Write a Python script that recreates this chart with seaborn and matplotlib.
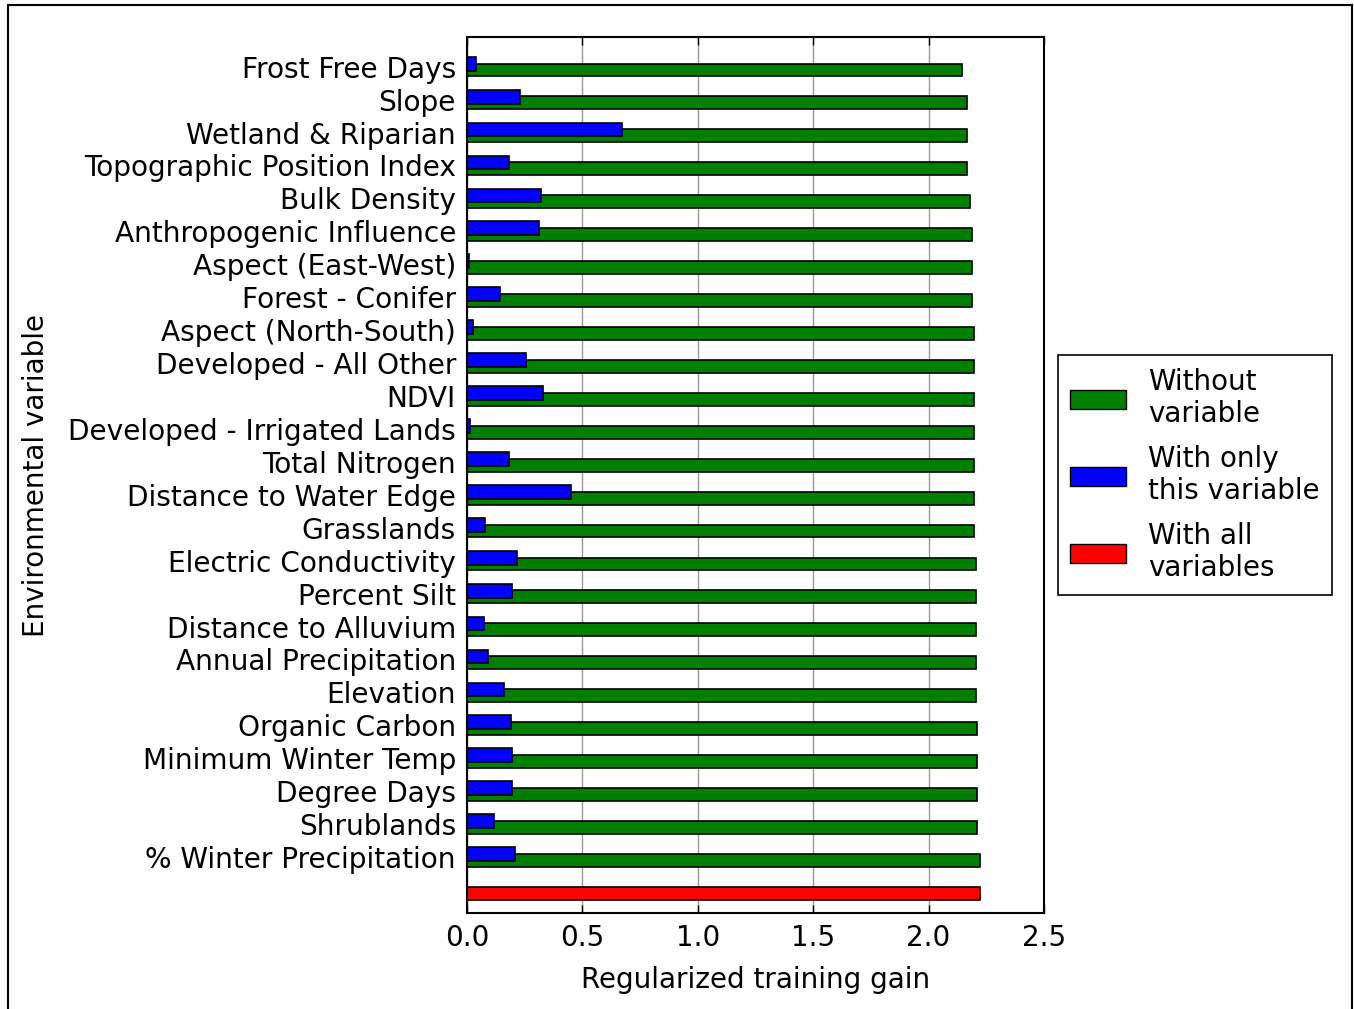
import matplotlib
matplotlib.use("Agg")
import matplotlib.pyplot as plt
import seaborn as sns
import pandas as pd
import numpy as np
from matplotlib.patches import Rectangle, Patch

variables = [
    "Frost Free Days", "Slope", "Wetland & Riparian", "Topographic Position Index",
    "Bulk Density", "Anthropogenic Influence", "Aspect (East-West)", "Forest - Conifer",
    "Aspect (North-South)", "Developed - All Other", "NDVI", "Developed - Irrigated Lands",
    "Total Nitrogen", "Distance to Water Edge", "Grasslands", "Electric Conductivity",
    "Percent Silt", "Distance to Alluvium", "Annual Precipitation", "Elevation",
    "Organic Carbon", "Minimum Winter Temp", "Degree Days", "Shrublands",
    "% Winter Precipitation",
]
without_variable = [
    2.145, 2.166, 2.166, 2.166, 2.178, 2.188, 2.188, 2.188, 2.195, 2.195,
    2.198, 2.198, 2.198, 2.198, 2.198, 2.205, 2.205, 2.205, 2.205, 2.205,
    2.21, 2.21, 2.21, 2.21, 2.222,
]
only_variable = [
    0.04, 0.23, 0.67, 0.18, 0.32, 0.31, 0.01, 0.145, 0.025, 0.255,
    0.33, 0.013, 0.18, 0.45, 0.08, 0.215, 0.195, 0.075, 0.09, 0.16,
    0.19, 0.195, 0.195, 0.115, 0.21,
]
all_variables = 2.222

sns.set_style("white")
plt.rcParams["font.family"] = ["DejaVu Sans"]
plt.rcParams["text.color"] = "black"
plt.rcParams["axes.labelcolor"] = "black"
plt.rcParams["xtick.color"] = "black"
plt.rcParams["ytick.color"] = "black"

fig = plt.figure(figsize=(13.54, 10.09), dpi=100)
ax = fig.add_axes([0.3449, 0.0951, 0.4261, 0.8682])

n = len(variables)
pos = np.arange(n)
df_without = pd.DataFrame({"pos": pos + 0.1, "gain": without_variable})
df_only = pd.DataFrame({"pos": pos - 0.09, "gain": only_variable})
df_all = pd.DataFrame({"pos": [n + 0.1], "gain": [all_variables]})

common = dict(orient="h", native_scale=True, errorbar=None, saturation=1,
              edgecolor="black", linewidth=1.2, ax=ax)
sns.barplot(data=df_without, x="gain", y="pos", color=(0, 0.5, 0), width=0.39, **common)
sns.barplot(data=df_only, x="gain", y="pos", color=(0, 0, 1), width=0.42, **common)
sns.barplot(data=df_all, x="gain", y="pos", color=(1, 0, 0), width=0.4, **common)

ax.set_xlim(0, 2.5)
ax.set_ylim(n + 0.7, -0.9)
ax.set_xticks([0.0, 0.5, 1.0, 1.5, 2.0, 2.5])
ax.set_xticklabels(["0.0", "0.5", "1.0", "1.5", "2.0", "2.5"])
ax.set_yticks(pos)
ax.set_yticklabels(variables)
ax.tick_params(axis="y", length=0, labelsize=20.2, pad=8)
ax.tick_params(axis="x", direction="in", length=6, width=1, top=True, bottom=True,
               labelsize=20, pad=8, color="black")
ax.grid(axis="x", color="#999999", linewidth=1)
ax.grid(axis="y", visible=False)
ax.set_axisbelow(True)
for s in ax.spines.values():
    s.set_visible(True)
    s.set_color("black")
    s.set_linewidth(1.5)

ax.set_xlabel("Regularized training gain", fontsize=20, labelpad=10)
ax.set_ylabel("Environmental variable", fontsize=20)
ax.yaxis.set_label_coords(-0.7227, 0.5)

handles = [
    Patch(facecolor=(0, 0.5, 0), edgecolor="black", label="Without\nvariable"),
    Patch(facecolor=(0, 0, 1), edgecolor="black", label="With only\nthis variable"),
    Patch(facecolor=(1, 0, 0), edgecolor="black", label="With all\nvariables"),
]
leg = ax.legend(handles=handles, loc="center left", bbox_to_anchor=(1.0243, 0.5),
                borderaxespad=0, fontsize=20, frameon=True, fancybox=False,
                framealpha=1, edgecolor="black", handlelength=2.0, handleheight=0.7,
                labelspacing=0.6, borderpad=0.45, handletextpad=0.8)
leg.get_frame().set_linewidth(1.2)

fig.patches.append(Rectangle((8 / 1354, -0.01), (1352 - 8) / 1354, 1.01 - 5 / 1009,
                             transform=fig.transFigure, fill=False,
                             edgecolor="black", linewidth=1.5))

fig.savefig("out.png", dpi=100, facecolor="white")
